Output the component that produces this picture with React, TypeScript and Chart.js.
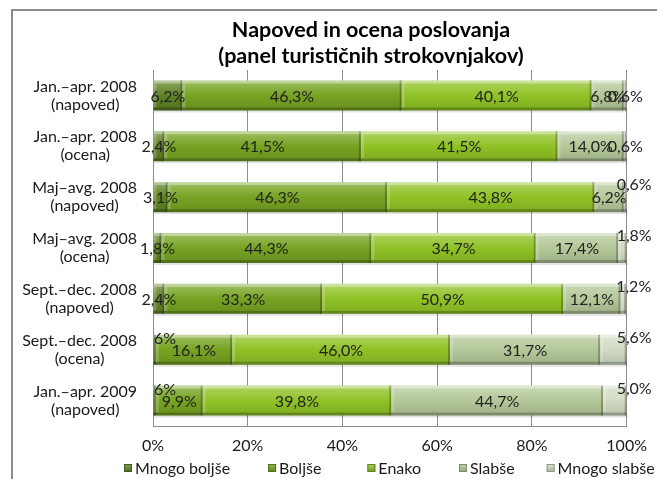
import React, { useEffect, useRef } from "react";
import { Chart, registerables } from "chart.js";

Chart.register(...registerables);

const titleLines = ["Napoved in ocena poslovanja", "(panel turističnih strokovnjakov)"];
const categories: string[][] = [
  ["Jan.–apr. 2008", "(napoved)"],
  ["Jan.–apr. 2008", "(ocena)"],
  ["Maj–avg. 2008", "(napoved)"],
  ["Maj–avg. 2008", "(ocena)"],
  ["Sept.–dec. 2008", "(napoved)"],
  ["Sept.–dec. 2008", "(ocena)"],
  ["Jan.–apr. 2009", "(napoved)"],
];
const seriesNames = ["Mnogo boljše", "Boljše", "Enako", "Slabše", "Mnogo slabše"];
const mnogoBoljse = [6.2, 2.4, 3.1, 1.8, 2.4, 0.6, 0.6];
const boljse = [46.3, 41.5, 46.3, 44.3, 33.3, 16.1, 9.9];
const enako = [40.1, 41.5, 43.8, 34.7, 50.9, 46.0, 39.8];
const slabse = [6.8, 14.0, 6.2, 17.4, 12.1, 31.7, 44.7];
const mnogoSlabse = [0.6, 0.6, 0.6, 1.8, 1.2, 5.6, 5.0];
const xTicks = [0, 20, 40, 60, 80, 100];

const seriesColors = ["#5f8224", "#76a322", "#8fc226", "#b4c899", "#d1dbc3"];
// labels that Excel moved above the bar: [datasetIndex, rowIndex]
const liftedLabels: number[][] = [
  [0, 5], [0, 6],
  [4, 2], [4, 3], [4, 4], [4, 5], [4, 6],
];
const legendGaps = [38, 46, 38, 32];

const FONT = "Lato, 'Open Sans', sans-serif";

function hexToRgb(h: string) {
  const n = parseInt(h.slice(1), 16);
  return [(n >> 16) & 255, (n >> 8) & 255, n & 255];
}
function mix(h: string, target: number, t: number) {
  const [r, g, b] = hexToRgb(h);
  const f = (c: number) => Math.round(c + (target - c) * t);
  return `rgb(${f(r)},${f(g)},${f(b)})`;
}
const fmt = (v: number) => v.toFixed(1).replace(".", ",") + "%";

export default function App() {
  const ref = useRef<HTMLCanvasElement | null>(null);
  useEffect(() => {
    const canvas = ref.current!;
    const seriesData = [mnogoBoljse, boljse, enako, slabse, mnogoSlabse];

    const gradientFill = (ci: number) => (ctx: any) => {
      const chart = ctx.chart;
      const base = seriesColors[ci];
      const ys = chart.scales && chart.scales.y;
      if (!ys || ctx.type !== "data" || !chart.chartArea) return base;
      const yc = ys.getPixelForValue(ctx.dataIndex);
      const band = (chart.chartArea.bottom - chart.chartArea.top) / categories.length;
      const h = band * 0.59;
      const g = chart.ctx.createLinearGradient(0, yc - h / 2, 0, yc + h / 2);
      g.addColorStop(0, mix(base, 255, 0.3));
      g.addColorStop(0.5, base);
      g.addColorStop(1, mix(base, 0, 0.12));
      return g;
    };

    const decorPlugin = {
      id: "decor",
      afterDatasetsDraw(chart: any) {
        const c = chart.ctx as CanvasRenderingContext2D;
        const area = chart.chartArea;
        // bevels
        chart.data.datasets.forEach((_d: any, di: number) => {
          const meta = chart.getDatasetMeta(di);
          meta.data.forEach((el: any) => {
            const p = el.getProps(["x", "y", "base", "height"], true);
            const l = Math.min(p.x, p.base), r = Math.max(p.x, p.base);
            const t = p.y - p.height / 2, b = p.y + p.height / 2;
            const w = r - l;
            if (w <= 0) return;
            c.save();
            c.fillStyle = "rgba(0,0,0,0.10)";
            c.fillRect(l + 1, b, w, 2);
            c.fillStyle = "rgba(255,255,255,0.38)";
            c.fillRect(l, t, w, 3);
            c.fillStyle = "rgba(255,255,255,0.2)";
            c.fillRect(l, t + 3, Math.min(3, w), p.height - 6);
            c.fillStyle = "rgba(0,0,0,0.22)";
            c.fillRect(l, b - 3, w, 3);
            c.fillStyle = "rgba(0,0,0,0.25)";
            c.fillRect(r - Math.min(2, w), t, Math.min(2, w), p.height);
            c.restore();
          });
        });
        // data labels
        c.save();
        c.font = `16px ${FONT}`;
        c.fillStyle = "#222";
        c.textBaseline = "middle";
        chart.data.datasets.forEach((ds: any, di: number) => {
          const meta = chart.getDatasetMeta(di);
          meta.data.forEach((el: any, i: number) => {
            const p = el.getProps(["x", "y", "base"], true);
            const txt = fmt(ds.data[i]);
            const lifted = liftedLabels.some((k) => k[0] === di && k[1] === i);
            if (lifted && di === seriesData.length - 1) {
              c.textAlign = "left";
              c.fillText(txt, Math.max(p.x, p.base) - 10, p.y - 12);
            } else if (lifted) {
              c.save();
              c.beginPath();
              c.rect(area.left, 0, chart.width - area.left, chart.height);
              c.clip();
              c.textAlign = "center";
              c.fillText(txt, (p.x + p.base) / 2 + 4, p.y - 11);
              c.restore();
            } else {
              c.textAlign = "center";
              c.fillText(txt, (p.x + p.base) / 2, p.y + 1);
            }
          });
        });
        c.restore();
      },
      afterDraw(chart: any) {
        const c = chart.ctx as CanvasRenderingContext2D;
        const area = chart.chartArea;
        const ys = chart.scales.y;
        c.save();
        // title
        c.fillStyle = "#000";
        c.font = `bold 21.5px ${FONT}`;
        c.textAlign = "center";
        c.textBaseline = "middle";
        c.fillText(titleLines[0], 371, 30);
        c.fillText(titleLines[1], 371, 56);
        // category labels
        c.font = `16px ${FONT}`;
        c.fillStyle = "#1a1a1a";
        categories.forEach((lines, i) => {
          const yc = ys.getPixelForValue(i);
          const bw = Math.max(...lines.map((s) => c.measureText(s).width));
          const cx = area.left - 16 - bw / 2;
          lines.forEach((s, li) => {
            c.fillText(s, cx, yc - 9 + li * 18);
          });
        });
        // legend
        c.font = `16px ${FONT}`;
        c.textAlign = "left";
        let x = 124;
        const ly = 468;
        seriesNames.forEach((name, i) => {
          const g = c.createLinearGradient(0, ly - 4, 0, ly + 4);
          g.addColorStop(0, mix(seriesColors[i], 255, 0.25));
          g.addColorStop(1, mix(seriesColors[i], 0, 0.2));
          c.fillStyle = g;
          c.fillRect(x, ly - 4, 8, 8);
          c.strokeStyle = mix(seriesColors[i], 0, 0.3);
          c.lineWidth = 1;
          c.strokeRect(x + 0.5, ly - 3.5, 7, 7);
          c.fillStyle = "#1a1a1a";
          c.fillText(name, x + 11, ly + 1);
          x += 11 + c.measureText(name).width + (legendGaps[i] ?? 0);
        });
        c.restore();
      },
    };

    const chart = new Chart(canvas, {
      type: "bar",
      data: {
        labels: categories.map((l) => l.join(" ")),
        datasets: seriesData.map((d, i) => ({
          label: seriesNames[i],
          data: d,
          backgroundColor: gradientFill(i),
          borderWidth: 0,
          barPercentage: 0.59,
          categoryPercentage: 1,
        })),
      },
      options: {
        indexAxis: "y",
        animation: false,
        responsive: true,
        maintainAspectRatio: false,
        layout: { padding: { top: 70, right: 28, left: 0, bottom: 0 } },
        plugins: {
          legend: { display: false },
          title: { display: false },
          tooltip: { enabled: false },
        },
        scales: {
          x: {
            stacked: true,
            min: 0,
            max: 100,
            afterBuildTicks: (s: any) => {
              s.ticks = xTicks.map((v) => ({ value: v }));
            },
            afterFit: (s: any) => {
              s.height = 53;
            },
            ticks: {
              callback: (v: any) => v + "%",
              font: { family: FONT, size: 16 },
              color: "#1a1a1a",
              padding: 10,
              maxRotation: 0,
            },
            grid: { color: "#8c8c8c", lineWidth: 1, drawTicks: false },
            border: { display: true, color: "#8c8c8c", width: 1 },
          },
          y: {
            stacked: true,
            afterFit: (s: any) => {
              s.width = 153;
            },
            ticks: { display: false },
            grid: { display: false, drawTicks: false },
            border: { display: true, color: "#8c8c8c", width: 1 },
          },
        },
      },
      plugins: [decorPlugin],
    } as any);
    return () => chart.destroy();
  }, []);

  return (
    <div
      style={{
        position: "fixed",
        left: 0,
        top: 0,
        width: 657,
        height: 479,
        overflow: "hidden",
        background: "#fff",
      }}
    >
      <div
        style={{
          position: "absolute",
          left: 11,
          top: 9,
          width: 720,
          height: 540,
          border: "2px solid #8c8c8c",
          boxSizing: "border-box",
        }}
      />
      <div style={{ position: "absolute", left: 0, top: 0, width: 657, height: 479 }}>
        <canvas ref={ref} />
      </div>
    </div>
  );
}
